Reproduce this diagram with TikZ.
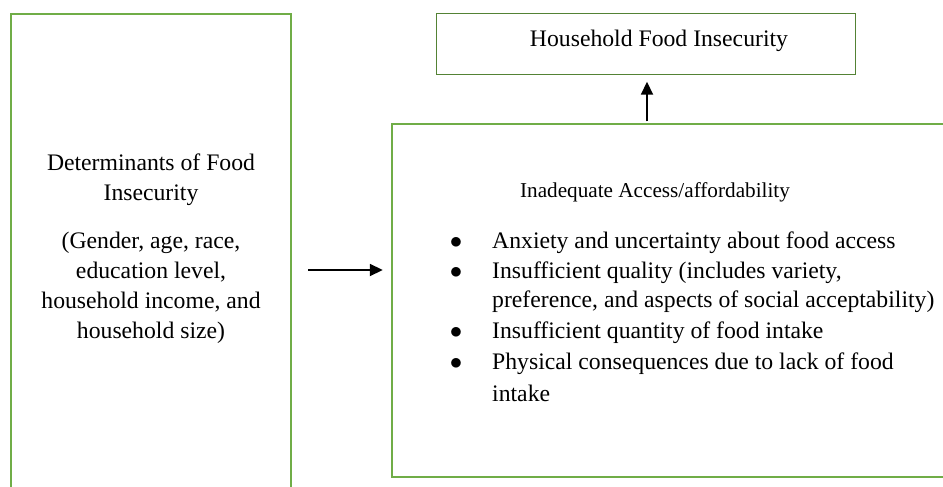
\documentclass[tikz,border=0pt]{standalone}
\usepackage{fontspec}
\setmainfont{Liberation Serif}
\usetikzlibrary{arrows.meta,calc}
\definecolor{boxgreen}{RGB}{112,173,71}
\definecolor{topgreen}{RGB}{84,130,53}
\tikzset{
  x=1pt,y=-1pt,
  greenbox/.style={draw=boxgreen,line width=2pt},
  topbox/.style={draw=topgreen,line width=1pt},
  txt/.style={inner sep=0pt,font=\fontsize{23.7}{30}\selectfont},
  arr/.style={line width=1.8pt,-{Triangle[length=13pt,width=12pt]}},
}
\begin{document}
\begin{tikzpicture}
\useasboundingbox (0,0) rectangle (943,487);
\clip (0,0) rectangle (943,487);
% boxes
\draw[greenbox] (11,14) rectangle (291,520);
\draw[greenbox] (392,124) rectangle (980,477);
\draw[topbox] (436,14) rectangle (855,75);
% named anchors for connectors
\node[inner sep=0pt,minimum width=0pt] (leftbox) at (291,270) {};
\node[inner sep=0pt,minimum width=0pt] (rightbox) at (392,270) {};
\node[inner sep=0pt] (rtop) at (647,124) {};
\node[inner sep=0pt] (tbot) at (647,75) {};
% texts
\node[txt] (hfi) at (659,41) {Household Food Insecurity};
\node[txt,align=center] (det) at (151,180) {Determinants of Food\\Insecurity};
\node[txt,align=center] (detlist) at (151,288) {(Gender, age, race,\\education level,\\household income, and\\household size)};
\node[txt,font=\fontsize{21.2}{30}\selectfont] (ina) at (655,192) {Inadequate Access/affordability};
\foreach \yy/\nm in {243/b1,273/b2,333/b3,364/b4}{
  \node[txt] (\nm) at (456,\yy) {$\bullet$};
}
\node[txt,anchor=west] (t1) at (492,243) {Anxiety and uncertainty about food access};
\node[txt,anchor=west] (t2) at (492,273) {Insufficient quality (includes variety,};
\node[txt,anchor=west] (t2b) at (492,302) {preference, and aspects of social acceptability)};
\node[txt,anchor=west] (t3) at (492,333) {Insufficient quantity of food intake};
\node[txt,anchor=west] (t4) at (492,364) {Physical consequences due to lack of food};
\node[txt,anchor=west] (t4b) at (492,393) {intake};
% connectors
\draw[arr,shorten <=17pt,shorten >=9pt] (leftbox) -- (rightbox);
\draw[arr,shorten <=2pt,shorten >=6pt] (rtop) -- (tbot);
\end{tikzpicture}
\end{document}
